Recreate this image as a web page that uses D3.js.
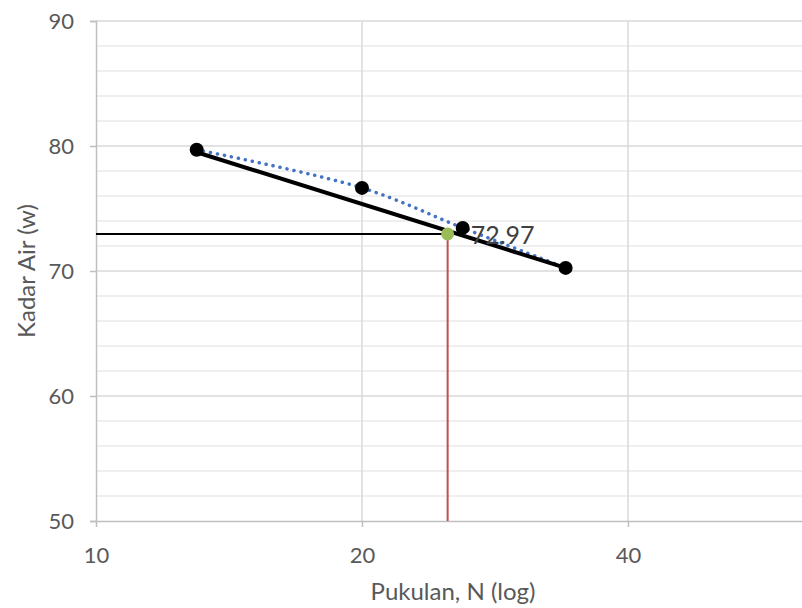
<!DOCTYPE html>
<html>
<head>
<meta charset="utf-8">
<script src="https://cdn.jsdelivr.net/npm/d3@7/dist/d3.min.js"></script>
<style>
  html, body { margin: 0; padding: 0; background: #fff; }
  svg { display: block; }
  text { font-family: "Lato", "Liberation Sans", sans-serif; }
</style>
</head>
<body>
<div id="chart"></div>
<script>
// Blow counts and water contents from the liquid limit test
const blows = [13, 20, 26, 34];
const water = [79.7, 76.65, 73.45, 70.25];

// Straight fit line in log space (end points)
const fitBlows = [13, 34];
const fitWater = [79.5, 70.25];

// Liquid limit read at 25 blows
const targetBlows = 25;
const targetWater = 72.97;

// Axis ticks
const xTicks = [10, 20, 40];
const yTicks = [50, 60, 70, 80, 90];
const yMinorTicks = d3.range(50, 90.001, 2);

const W = 802, H = 608;
const svg = d3.select("#chart").append("svg")
  .attr("width", W).attr("height", H);

const x = d3.scaleLog().base(2).domain([10, 80]).range([96, 894]);
const y = d3.scaleLinear().domain([50, 90]).range([521, 21]);
const right = W;

// minor horizontal gridlines
svg.append("g").selectAll("line")
  .data(yMinorTicks.filter(v => v % 10 !== 0))
  .join("line")
  .attr("x1", x(10)).attr("x2", right)
  .attr("y1", d => y(d)).attr("y2", d => y(d))
  .attr("stroke", "#eaeaea").attr("stroke-width", 1.5);

// major horizontal gridlines
svg.append("g").selectAll("line")
  .data(yTicks.filter(v => v !== 50))
  .join("line")
  .attr("x1", x(10)).attr("x2", right)
  .attr("y1", d => y(d)).attr("y2", d => y(d))
  .attr("stroke", "#d9d9d9").attr("stroke-width", 1.5);

// vertical gridlines
svg.append("g").selectAll("line")
  .data(xTicks.filter(v => v !== 10))
  .join("line")
  .attr("x1", d => x(d)).attr("x2", d => x(d))
  .attr("y1", y(90)).attr("y2", y(50))
  .attr("stroke", "#d9d9d9").attr("stroke-width", 1.5);

// axes
const yAxis = d3.axisLeft(y).tickValues(yTicks).tickSize(6).tickPadding(16).tickFormat(d3.format("d"));
const gy = svg.append("g").attr("transform", `translate(${x(10)},0)`).call(yAxis);
const xAxis = d3.axisBottom(x).tickValues(xTicks).tickSize(6).tickPadding(20).tickFormat(d3.format("d"));
const gx = svg.append("g").attr("transform", `translate(0,${y(50)})`).call(xAxis);

[gx, gy].forEach(g => {
  g.select(".domain").attr("stroke", "#bfbfbf").attr("stroke-width", 1.5);
  g.selectAll(".tick line").attr("stroke", "#bfbfbf").attr("stroke-width", 1.5);
  g.selectAll(".tick text").attr("fill", "#595959").attr("font-size", 22)
    .attr("font-family", "Lato, 'Liberation Sans', sans-serif");
});
gx.select(".domain").attr("d", `M${x(10)},0.5H${right}`);

// axis titles
svg.append("text")
  .attr("x", 453).attr("y", 600)
  .attr("text-anchor", "middle")
  .attr("fill", "#595959").attr("font-size", 24)
  .text("Pukulan, N (log)");

svg.append("text")
  .attr("transform", `translate(35,${y(70)}) rotate(-90)`)
  .attr("text-anchor", "middle")
  .attr("fill", "#595959").attr("font-size", 24)
  .text("Kadar Air (w)");

// guide lines to the liquid limit
svg.append("line")
  .attr("x1", x(10)).attr("x2", x(targetBlows))
  .attr("y1", y(targetWater)).attr("y2", y(targetWater))
  .attr("stroke", "#000").attr("stroke-width", 2);
svg.append("line")
  .attr("x1", x(targetBlows)).attr("x2", x(targetBlows))
  .attr("y1", y(targetWater)).attr("y2", y(50))
  .attr("stroke", "#c0504d").attr("stroke-width", 2);

const pts = blows.map((b, i) => [x(b), y(water[i])]);

// dotted smooth line through the data
svg.append("path")
  .attr("d", d3.line().curve(d3.curveCatmullRom)(pts))
  .attr("fill", "none")
  .attr("stroke", "#4472c4").attr("stroke-width", 3.5)
  .attr("stroke-linecap", "round")
  .attr("stroke-dasharray", "0.1 7");

// fit line
svg.append("path")
  .attr("d", d3.line()(fitBlows.map((b, i) => [x(b), y(fitWater[i])])))
  .attr("fill", "none")
  .attr("stroke", "#000").attr("stroke-width", 4);

// data points
svg.append("g").selectAll("circle")
  .data(pts)
  .join("circle")
  .attr("cx", d => d[0]).attr("cy", d => d[1])
  .attr("r", 7).attr("fill", "#000");

// liquid limit point
svg.append("circle")
  .attr("cx", x(targetBlows)).attr("cy", y(targetWater))
  .attr("r", 6.5).attr("fill", "#9bbb59");

svg.append("text")
  .attr("x", x(targetBlows) + 23).attr("y", y(targetWater) + 10)
  .attr("fill", "#404040").attr("font-size", 25)
  .text(d3.format(".2f")(targetWater));
</script>
</body>
</html>
